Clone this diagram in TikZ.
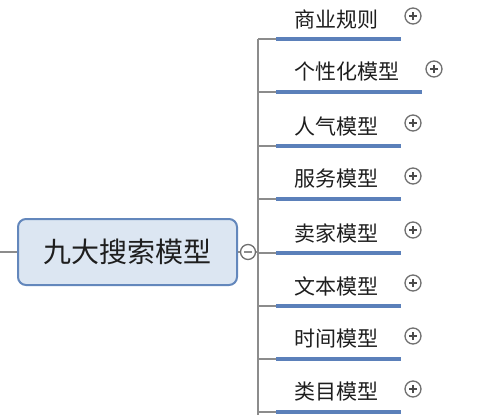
\documentclass[tikz,border=0pt]{standalone}
\usepackage{fontspec}
\setmainfont{Noto Sans CJK SC}
\usetikzlibrary{positioning}
\definecolor{barblue}{HTML}{5B80BA}
\definecolor{topicfill}{HTML}{DCE6F2}
\definecolor{topicline}{HTML}{6387BC}
\definecolor{linkgray}{HTML}{8C8C8C}
\definecolor{textgray}{HTML}{1E1E1E}

\begin{document}
\begin{tikzpicture}[x=1pt,y=-1pt]
\tikzset{topic/.style={draw=topicline, line width=2pt, fill=topicfill, rounded corners=8pt,
        minimum width=219pt, minimum height=66pt, inner sep=0pt,
        font=\fontsize{28}{28}\selectfont, text=textgray}};
\tikzset{leaf/.style={anchor=west, inner sep=0pt, font=\fontsize{21}{21}\selectfont, text=textgray}};
\tikzset{link/.style={draw=linkgray, line width=1.2pt}};
\tikzset{bar/.style={draw=barblue, line width=4pt}};
\tikzset{fold/.style={circle, draw=linkgray!80!black, line width=1.3pt, fill=white, minimum size=16pt, inner sep=0pt}};
\tikzset{plus/.style={fold, path picture={
        \draw[line width=1.4pt, textgray!80] (path picture bounding box.center) +(-4pt,0pt) -- +(4pt,0pt);
        \draw[line width=1.4pt, textgray!80] (path picture bounding box.center) +(0pt,-4pt) -- +(0pt,4pt);}}};
\tikzset{minus/.style={fold, minimum size=15pt, path picture={
        \draw[line width=1.2pt, linkgray] (path picture bounding box.center) +(-4pt,0pt) -- +(4pt,0pt);}}};

    \useasboundingbox (0,0) rectangle (500,415);

    % central topic
    \coordinate (lead) at (0,252);
    \node[topic] (main) at (127.5,252) {九大搜索模型};
    \draw[link] (lead) -- (main.west);
    \node[minus] (fold) at (248,252) {};
    \coordinate (spinetop) at (258,39);
    \coordinate (spinebot) at (258,415);
    \draw[link] (main.east) -- (fold);
    \draw[link] (fold) -- (fold -| spinetop);
    \draw[link] (spinetop) -- (spinebot);

    % branches
    \foreach \i/\txt/\y/\e in {1/商业规则/39/401, 2/个性化模型/92/422, 3/人气模型/146/401,
                               4/服务模型/199/401, 5/卖家模型/253/401, 6/文本模型/306/401,
                               7/时间模型/359/401, 8/类目模型/412/401}{
        \coordinate (j\i) at (258,\y);
        \coordinate (b\i) at (276,\y);
        \coordinate (e\i) at (\e,\y);
        \draw[link] (j\i) -- (b\i);
        \draw[bar] (b\i) -- (e\i);
        \node[leaf] (t\i) at (294,\y-20) {\txt};
        \node[plus] (p\i) at (\e+12,\y-23) {};
    }
\end{tikzpicture}
\end{document}
